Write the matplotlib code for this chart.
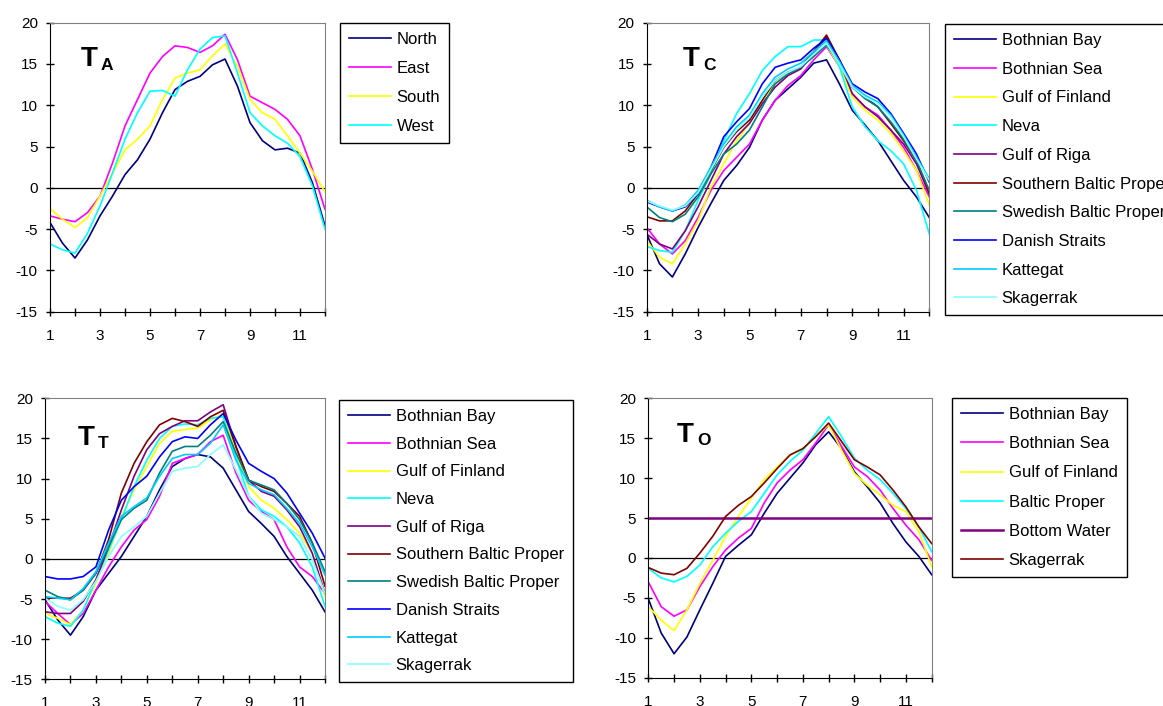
import matplotlib
matplotlib.use("Agg")
import matplotlib.pyplot as plt
import numpy as np

plt.rcParams['font.family'] = ['Liberation Sans', 'DejaVu Sans']
plt.rcParams['axes.unicode_minus'] = False

# half-month resolution, Jan (1) .. Dec (12)
months = [1, 1.5, 2, 2.5, 3, 3.5, 4, 4.5, 5, 5.5, 6, 6.5, 7, 7.5, 8, 8.5,
          9, 9.5, 10, 10.5, 11, 11.5, 12]

# --- T_A : air temperature by sector
ta_labels = ['North', 'East', 'South', 'West']
ta_north = [-4.2, -6.7, -8.5, -6.3, -3.4, -1.0, 1.6, 3.4, 5.9, 9.1, 11.9, 12.9,
            13.5, 14.9, 15.6, 12.3, 7.9, 5.7, 4.6, 4.8, 4.2, 0.6, -4.6]
ta_east = [-3.4, -3.8, -4.1, -3.0, -1.0, 3.0, 7.5, 10.7, 13.9, 15.9, 17.2, 17.0,
           16.4, 17.2, 18.6, 15.5, 11.1, 10.3, 9.5, 8.3, 6.3, 2.2, -2.6]
ta_south = [-2.5, -3.8, -4.8, -3.6, -1.0, 1.8, 4.6, 5.9, 7.5, 10.7, 13.3, 13.9,
            14.3, 16.0, 17.4, 14.7, 10.7, 9.1, 8.3, 6.3, 4.2, 2.0, -0.5]
ta_west = [-6.8, -7.5, -7.9, -5.5, -2.2, 1.8, 5.9, 9.1, 11.7, 11.8, 11.1, 14.3,
           16.8, 18.2, 18.4, 13.9, 9.1, 7.5, 6.3, 5.4, 3.8, 0.2, -5.0]

basins = ['Bothnian Bay', 'Bothnian Sea', 'Gulf of Finland', 'Neva', 'Gulf of Riga',
          'Southern Baltic Proper', 'Swedish Baltic Proper', 'Danish Straits',
          'Kattegat', 'Skagerrak']

# --- T_C
tc_bothnian_bay = [-5.6, -9.2, -10.8, -8.0, -4.8, -1.9, 0.9, 2.7, 4.9, 8.2, 10.6, 12.0,
                   13.4, 15.1, 15.5, 12.6, 9.4, 7.6, 5.7, 3.3, 0.9, -1.1, -3.6]
tc_bothnian_sea = [-4.8, -6.8, -8.0, -6.4, -3.6, -0.3, 2.1, 3.7, 5.3, 8.2, 10.6, 12.4,
                   13.6, 15.5, 17.1, 14.7, 11.4, 9.8, 8.8, 7.0, 4.9, 2.1, -1.1]
tc_gulf_finland = [-6.4, -8.4, -9.2, -6.8, -4.0, 0.1, 2.9, 5.7, 7.8, 10.6, 12.6, 13.8,
                   14.6, 16.1, 17.3, 14.7, 11.0, 9.4, 8.2, 6.6, 4.5, 2.1, -2.1]
tc_neva = [-7.1, -7.6, -7.8, -5.2, -1.5, 1.7, 5.7, 9.0, 11.4, 14.2, 15.9, 17.1,
           17.1, 17.9, 17.9, 14.7, 9.8, 7.4, 5.7, 4.5, 2.9, -0.3, -5.6]
tc_gulf_riga = [-5.6, -6.8, -7.4, -5.2, -2.3, 0.9, 4.1, 6.2, 7.8, 10.2, 12.2, 13.6,
                14.4, 16.3, 18.3, 15.5, 11.4, 9.8, 8.6, 7.0, 5.3, 2.9, -0.7]
tc_south_bp = [-3.5, -4.0, -4.0, -2.8, -0.7, 2.1, 4.9, 6.8, 8.2, 10.6, 13.0, 14.0,
               14.6, 16.5, 18.5, 15.5, 12.2, 11.0, 9.8, 7.8, 5.7, 3.3, -0.7]
tc_swedish_bp = [-2.3, -3.6, -4.1, -3.2, -1.1, 1.7, 4.1, 5.3, 7.0, 9.8, 12.6, 13.8,
                 14.6, 15.9, 17.3, 15.1, 12.2, 10.8, 9.8, 8.0, 5.9, 3.3, -0.3]
tc_danish = [-1.7, -2.3, -2.8, -2.3, -0.7, 2.5, 6.2, 8.0, 9.6, 12.6, 14.6, 15.1,
             15.5, 16.9, 18.1, 15.5, 12.6, 11.6, 10.8, 9.0, 6.6, 4.1, 0.7]
tc_kattegat = [-1.5, -2.3, -2.8, -2.1, -0.3, 2.5, 5.3, 7.4, 8.8, 11.4, 13.4, 14.4,
               15.1, 16.5, 17.8, 15.3, 12.4, 11.2, 10.4, 8.8, 6.4, 3.7, 1.1]
tc_skagerrak = [-1.6, -2.2, -2.7, -2.2, -0.6, 2.2, 5.0, 7.0, 8.5, 11.0, 13.0, 14.0,
                14.7, 16.2, 17.5, 15.0, 12.2, 11.0, 10.2, 8.6, 6.2, 3.5, 0.9]

# --- T_T
tt_bothnian_bay = [-5.1, -7.6, -9.5, -7.2, -3.9, -1.8, 0.3, 2.8, 5.3, 8.6, 11.5, 12.5,
                   13.0, 12.7, 11.3, 8.6, 5.9, 4.4, 2.8, 0.3, -1.8, -3.9, -6.6]
tt_bothnian_sea = [-5.3, -6.8, -8.2, -6.8, -3.9, -1.0, 1.5, 3.6, 4.9, 7.8, 11.9, 12.5,
                   13.0, 14.6, 15.4, 10.7, 7.3, 5.9, 4.9, 1.5, -1.0, -2.2, -4.3]
tt_gulf_finland = [-6.8, -7.4, -8.2, -6.4, -3.0, 0.7, 5.3, 8.6, 11.5, 14.4, 15.9, 16.1,
                   16.3, 17.3, 18.1, 13.2, 9.0, 7.3, 6.3, 4.9, 3.2, 0.7, -4.7]
tt_neva = [-7.2, -8.0, -8.4, -6.4, -2.6, 1.1, 4.9, 9.0, 12.3, 15.0, 16.5, 16.8,
           16.7, 17.5, 17.7, 12.7, 7.8, 6.1, 5.3, 4.0, 2.0, -1.0, -5.9]
tt_gulf_riga = [-6.6, -6.8, -6.8, -5.3, -2.6, 1.5, 6.1, 10.3, 13.6, 15.6, 16.5, 17.2,
                17.2, 18.3, 19.2, 14.0, 9.8, 8.4, 7.8, 6.1, 4.0, 0.7, -4.3]
tt_south_bp = [-4.9, -4.9, -4.9, -3.9, -1.8, 2.4, 8.2, 11.9, 14.6, 16.7, 17.5, 17.1,
               16.5, 17.7, 18.5, 14.0, 9.8, 9.0, 8.4, 6.9, 5.3, 2.0, -3.4]
tt_swedish_bp = [-3.9, -4.7, -5.1, -3.9, -1.8, 1.5, 4.9, 6.3, 7.3, 10.7, 13.4, 14.0,
                 14.0, 15.4, 17.1, 13.2, 9.8, 9.2, 8.6, 6.9, 4.9, 2.0, -1.6]
tt_danish = [-2.2, -2.5, -2.5, -2.2, -1.0, 3.6, 7.3, 9.0, 10.3, 12.7, 14.6, 15.2,
             15.0, 16.7, 18.1, 14.8, 11.9, 10.9, 10.0, 8.2, 5.7, 3.2, 0.1]
tt_kattegat = [-4.7, -4.9, -5.1, -3.7, -1.6, 2.0, 5.3, 6.5, 7.6, 10.3, 12.5, 13.0,
               13.0, 14.4, 16.7, 12.3, 9.4, 8.6, 8.0, 6.3, 4.4, 1.5, -2.0]
tt_skagerrak = [-4.9, -5.9, -6.4, -5.1, -2.8, 0.3, 2.8, 4.0, 5.3, 8.2, 10.9, 11.3,
                11.5, 13.0, 14.2, 11.1, 7.8, 5.7, 4.9, 4.0, 2.8, -0.1, -4.3]

# --- T_O
to_labels = ['Bothnian Bay', 'Bothnian Sea', 'Gulf of Finland', 'Baltic Proper',
             'Bottom Water', 'Skagerrak']
to_bothnian_bay = [-5.1, -9.4, -12.0, -9.9, -6.5, -3.2, 0.2, 1.6, 2.9, 5.6, 8.1, 10.0,
                   11.9, 14.2, 15.8, 13.7, 10.8, 8.9, 6.9, 4.3, 2.0, 0.2, -2.1]
to_bothnian_sea = [-3.0, -6.1, -7.3, -6.5, -3.6, -1.1, 1.0, 2.5, 3.7, 6.9, 9.4, 11.0,
                   12.3, 14.4, 16.7, 14.0, 11.4, 10.2, 8.5, 6.2, 4.1, 2.3, -0.3]
to_gulf_finland = [-6.1, -7.8, -9.1, -6.5, -3.2, -0.3, 2.7, 5.2, 7.5, 9.8, 11.4, 12.9,
                   13.7, 15.2, 16.7, 13.5, 10.6, 9.1, 7.9, 6.6, 5.8, 3.3, -1.1]
to_baltic_proper = [-1.3, -2.5, -3.0, -2.3, -0.9, 1.4, 3.1, 4.6, 5.8, 8.1, 10.4, 12.1,
                    13.5, 15.6, 17.7, 15.2, 12.5, 11.0, 9.8, 8.1, 6.2, 3.9, 0.8]
to_bottom_water = [5, 5, 5, 5, 5, 5, 5, 5, 5, 5, 5, 5,
                   5, 5, 5, 5, 5, 5, 5, 5, 5, 5, 5]
to_skagerrak = [-1.2, -1.9, -2.1, -1.3, 0.6, 2.7, 5.2, 6.6, 7.7, 9.4, 11.2, 12.9,
                13.7, 15.2, 16.9, 14.6, 12.3, 11.4, 10.4, 8.5, 6.4, 3.9, 1.8]

# Excel 2003 default series colours
colors = ['#000080', '#FF00FF', '#FFFF00', '#00FFFF', '#800080',
          '#800000', '#008080', '#0000FF', '#00CCFF', '#88FFFF']

W, H = 1163, 706
fig = plt.figure(figsize=(W / 100, H / 100), dpi=100)


def px_axes(l, r, t, b):
    return fig.add_axes([l / W, 1 - b / H, (r - l) / W, (b - t) / H])


def style(ax):
    ax.set_xlim(1, 12)
    ax.set_ylim(-15, 20)
    ax.set_yticks(range(-15, 21, 5))
    ax.set_xticks(range(1, 13))
    ax.set_xticklabels([str(m) if m % 2 else '' for m in range(1, 13)])
    ax.tick_params(direction='inout', length=5.5, width=1, labelsize=11, colors='black')
    ax.tick_params(axis='x', pad=9.5)
    ax.tick_params(axis='y', pad=6)
    for s in ['top', 'right']:
        ax.spines[s].set_color('#808080')
    for s in ['left', 'bottom']:
        ax.spines[s].set_color('black')
    ax.axhline(0, color='black', lw=0.9, zorder=1)


def title(x, y, main, sub):
    fig.text(x / W, 1 - y / H, main, fontsize=20, fontweight='bold', va='baseline')
    fig.text((x + 20) / W, 1 - (y + 3) / H, sub, fontsize=12.5, fontweight='bold',
             va='baseline')


def legend(ax, x, y, spacing):
    leg = ax.legend(loc='upper left', bbox_to_anchor=(x / W, 1 - y / H),
                    bbox_transform=fig.transFigure, fontsize=12, frameon=True,
                    fancybox=False, framealpha=1, edgecolor='black',
                    handlelength=2.5, handletextpad=0.35, labelspacing=spacing,
                    borderpad=0.55, borderaxespad=0)
    leg.get_frame().set_linewidth(1.0)


# T_A
ax = px_axes(50, 325, 22.7, 311.7)
style(ax)
for lab, vals, c in zip(ta_labels, [ta_north, ta_east, ta_south, ta_west], colors):
    ax.plot(months, vals, color=c, lw=1.2, label=lab, zorder=2)
legend(ax, 340, 23, 0.84)
title(81, 66.5, 'T', 'A')

# T_C
ax = px_axes(646.7, 929.3, 22.7, 311.7)
style(ax)
tc = [tc_bothnian_bay, tc_bothnian_sea, tc_gulf_finland, tc_neva, tc_gulf_riga,
      tc_south_bp, tc_swedish_bp, tc_danish, tc_kattegat, tc_skagerrak]
for lab, vals, c in zip(basins, tc, colors):
    ax.plot(months, vals, color=c, lw=1.2, label=lab, zorder=2)
legend(ax, 945, 24, 0.82)
title(683, 66.5, 'T', 'C')

# T_T
ax = px_axes(45, 325, 398.3, 679.3)
style(ax)
tt = [tt_bothnian_bay, tt_bothnian_sea, tt_gulf_finland, tt_neva, tt_gulf_riga,
      tt_south_bp, tt_swedish_bp, tt_danish, tt_kattegat, tt_skagerrak]
for lab, vals, c in zip(basins, tt, colors):
    ax.plot(months, vals, color=c, lw=1.2, label=lab, zorder=2)
legend(ax, 339, 400, 0.76)
title(78, 445, 'T', 'T')

# T_O
ax = px_axes(648.3, 931.7, 398.3, 677.7)
style(ax)
to = [to_bothnian_bay, to_bothnian_sea, to_gulf_finland, to_baltic_proper,
      to_bottom_water, to_skagerrak]
for lab, vals, c in zip(to_labels, to, colors):
    lw = 1.8 if lab == 'Bottom Water' else 1.2
    ax.plot(months, vals, color=c, lw=lw, label=lab, zorder=2)
legend(ax, 952, 398, 0.85)
title(677, 442, 'T', 'O')

fig.savefig('out.png', dpi=100)
